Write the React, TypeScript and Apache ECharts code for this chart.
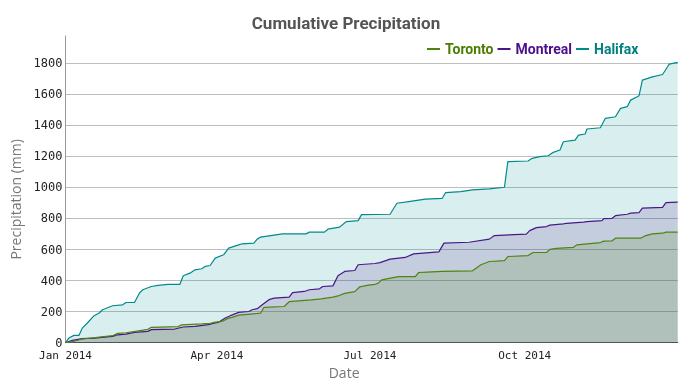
import React, { useEffect, useRef } from "react";
import * as echarts from "echarts";

const MONTHS = ["Jan", "Feb", "Mar", "Apr", "May", "Jun", "Jul", "Aug", "Sep", "Oct", "Nov", "Dec"];
const Y_TICKS = [0, 200, 400, 600, 800, 1000, 1200, 1400, 1600, 1800];

const torontoData: [string, number][] = [
  ["2014-01-01", 0], ["2014-01-05", 6], ["2014-01-11", 24], ["2014-01-29", 45], ["2014-02-01", 60],
  ["2014-02-06", 64], ["2014-02-19", 86], ["2014-02-21", 99], ["2014-03-09", 104], ["2014-03-11", 115],
  ["2014-03-23", 121], ["2014-03-28", 125], ["2014-03-31", 132], ["2014-04-04", 137], ["2014-04-08", 158],
  ["2014-04-10", 163], ["2014-04-14", 178], ["2014-04-27", 190], ["2014-04-29", 228], ["2014-05-11", 233],
  ["2014-05-14", 264], ["2014-05-27", 276], ["2014-06-02", 282], ["2014-06-09", 293], ["2014-06-12", 301],
  ["2014-06-16", 318], ["2014-06-22", 329], ["2014-06-25", 360], ["2014-06-30", 371], ["2014-07-04", 376],
  ["2014-07-06", 384], ["2014-07-08", 405], ["2014-07-18", 426], ["2014-07-28", 426], ["2014-07-30", 452],
  ["2014-08-04", 455], ["2014-08-13", 459], ["2014-08-31", 463], ["2014-09-05", 502], ["2014-09-10", 523],
  ["2014-09-19", 529], ["2014-09-21", 555], ["2014-10-03", 561], ["2014-10-06", 581], ["2014-10-14", 581],
  ["2014-10-16", 601], ["2014-10-20", 608], ["2014-10-30", 614], ["2014-11-01", 630], ["2014-11-15", 645],
  ["2014-11-17", 654], ["2014-11-22", 656], ["2014-11-24", 673], ["2014-12-09", 673], ["2014-12-12", 690],
  ["2014-12-16", 701], ["2014-12-22", 705], ["2014-12-24", 712], ["2014-12-31", 712],
];

const montrealData: [string, number][] = [
  ["2014-01-01", 0], ["2014-01-05", 15], ["2014-01-11", 26], ["2014-01-18", 30], ["2014-01-29", 41],
  ["2014-02-01", 51], ["2014-02-06", 55], ["2014-02-11", 66], ["2014-02-19", 73], ["2014-02-21", 84],
  ["2014-03-07", 88], ["2014-03-12", 101], ["2014-03-19", 105], ["2014-03-27", 116], ["2014-03-31", 127],
  ["2014-04-02", 131], ["2014-04-06", 159], ["2014-04-09", 174], ["2014-04-14", 195], ["2014-04-20", 201],
  ["2014-04-22", 212], ["2014-04-25", 219], ["2014-04-28", 244], ["2014-05-02", 277], ["2014-05-05", 287],
  ["2014-05-14", 294], ["2014-05-16", 323], ["2014-05-23", 330], ["2014-05-26", 341], ["2014-06-01", 347],
  ["2014-06-03", 362], ["2014-06-09", 366], ["2014-06-12", 431], ["2014-06-16", 459], ["2014-06-22", 465],
  ["2014-06-24", 502], ["2014-07-04", 510], ["2014-07-07", 516], ["2014-07-13", 538], ["2014-07-22", 549],
  ["2014-07-27", 572], ["2014-08-11", 585], ["2014-08-14", 641], ["2014-08-29", 647], ["2014-09-10", 667],
  ["2014-09-13", 690], ["2014-10-02", 699], ["2014-10-04", 722], ["2014-10-08", 741], ["2014-10-14", 748],
  ["2014-10-16", 757], ["2014-10-24", 765], ["2014-10-26", 769], ["2014-11-05", 776], ["2014-11-07", 780],
  ["2014-11-16", 786], ["2014-11-17", 799], ["2014-11-22", 801], ["2014-11-24", 818], ["2014-12-01", 827],
  ["2014-12-03", 834], ["2014-12-08", 838], ["2014-12-10", 866], ["2014-12-22", 872], ["2014-12-24", 902],
  ["2014-12-31", 905],
];

const halifaxData: [string, number][] = [
  ["2014-01-01", 0], ["2014-01-03", 30], ["2014-01-06", 47], ["2014-01-09", 47], ["2014-01-11", 94],
  ["2014-01-14", 127], ["2014-01-18", 174], ["2014-01-21", 191], ["2014-01-23", 212], ["2014-01-29", 238],
  ["2014-02-04", 244], ["2014-02-06", 259], ["2014-02-11", 259], ["2014-02-14", 320], ["2014-02-16", 341],
  ["2014-02-21", 362], ["2014-02-25", 369], ["2014-03-03", 375], ["2014-03-10", 375], ["2014-03-12", 431],
  ["2014-03-16", 448], ["2014-03-19", 469], ["2014-03-23", 476], ["2014-03-25", 491], ["2014-03-28", 497],
  ["2014-03-31", 545], ["2014-04-05", 566], ["2014-04-08", 609], ["2014-04-14", 630], ["2014-04-16", 637],
  ["2014-04-23", 641], ["2014-04-25", 667], ["2014-04-27", 680], ["2014-05-10", 701], ["2014-05-24", 701],
  ["2014-05-26", 712], ["2014-06-04", 712], ["2014-06-06", 731], ["2014-06-13", 744], ["2014-06-17", 780],
  ["2014-06-24", 786], ["2014-06-26", 825], ["2014-07-13", 827], ["2014-07-17", 898], ["2014-07-23", 907],
  ["2014-08-03", 924], ["2014-08-13", 930], ["2014-08-15", 967], ["2014-08-24", 973], ["2014-08-31", 984],
  ["2014-09-10", 990], ["2014-09-19", 1001], ["2014-09-21", 1166], ["2014-10-03", 1170], ["2014-10-05", 1185],
  ["2014-10-10", 1198], ["2014-10-15", 1204], ["2014-10-18", 1226], ["2014-10-22", 1241], ["2014-10-24", 1294],
  ["2014-10-31", 1305], ["2014-11-02", 1337], ["2014-11-06", 1344], ["2014-11-07", 1376], ["2014-11-15", 1384],
  ["2014-11-18", 1445], ["2014-11-24", 1455], ["2014-11-27", 1509], ["2014-12-01", 1520], ["2014-12-03", 1562],
  ["2014-12-07", 1584], ["2014-12-08", 1590], ["2014-12-10", 1691], ["2014-12-16", 1712], ["2014-12-22", 1727],
  ["2014-12-25", 1777], ["2014-12-26", 1794], ["2014-12-31", 1805],
];

const COLORS = { Toronto: "#4f8410", Montreal: "#4b1689", Halifax: "#008b8b" };
const DAY = 24 * 3600 * 1000;

export default function App() {
  const ref = useRef<HTMLDivElement>(null);
  useEffect(() => {
    if (!ref.current) return;
    const chart = echarts.init(ref.current, undefined, { renderer: "svg" });
    const mkSeries = (name: keyof typeof COLORS, data: [string, number][], alpha: number) => ({
      name,
      type: "line",
      data,
      showSymbol: false,
      symbol: "none",
      lineStyle: { color: COLORS[name], width: 1.2 },
      itemStyle: { color: COLORS[name] },
      areaStyle: { color: COLORS[name], opacity: alpha },
    });
    chart.setOption({
      animation: false,
      title: {
        text: "Cumulative Precipitation",
        left: "center",
        top: 9,
        textStyle: { fontFamily: "Roboto", fontSize: 17, fontWeight: "bold", color: "#555555" },
      },
      legend: {
        left: 422,
        top: 37,
        icon: "rect",
        itemWidth: 13,
        itemHeight: 2,
        itemGap: 4,
        textStyle: { fontFamily: "Roboto", fontSize: 14, fontWeight: "bold" },
        data: [
          { name: "Toronto", textStyle: { color: "#4c7d00" } },
          { name: "Montreal", textStyle: { color: "#4b0f8c" } },
          { name: "Halifax", textStyle: { color: "#008080" } },
        ],
      },
      grid: { left: 65.5, right: 14.3, top: 36, bottom: 48.3, containLabel: false },
      xAxis: {
        type: "time",
        min: "2014-01-01",
        max: "2014-12-31",
        splitNumber: 4,
        minInterval: 85 * DAY,
        maxInterval: 95 * DAY,
        name: "Date",
        nameLocation: "middle",
        nameGap: 22,
        nameTextStyle: { fontFamily: "Open Sans", fontSize: 14, color: "#777777", padding: [0, 55, 0, 0] },
        axisLine: { show: true, lineStyle: { color: "#555555", width: 1 } },
        axisTick: { show: false },
        splitLine: { show: false },
        minorTick: { show: false },
        axisLabel: {
          showMinLabel: true,
          fontFamily: "DejaVu Sans Mono",
          fontSize: 11,
          color: "#222222",
          margin: 7,
          formatter: (val: number) => {
            const d = new Date(val);
            if (d.getDate() === 1 && d.getMonth() % 3 === 0) return `${MONTHS[d.getMonth()]} ${d.getFullYear()}`;
            return "";
          },
        },
      },
      yAxis: {
        type: "value",
        min: Y_TICKS[0],
        max: 1975,
        interval: 200,
        name: "Precipitation (mm)",
        nameLocation: "middle",
        nameGap: 40,
        nameTextStyle: { fontFamily: "Open Sans", fontSize: 14, color: "#777777", padding: [0, 20, 0, 0] },
        axisLine: { show: true, lineStyle: { color: "#999999", width: 1 } },
        axisTick: { show: false },
        splitLine: { show: true, showMaxLine: false, lineStyle: { color: "#bdbdbd", width: 1 } },
        axisLabel: {
          showMaxLabel: false,
          fontFamily: "DejaVu Sans Mono",
          fontSize: 12,
          color: "#222222",
          margin: 3,
          formatter: (v: number) => (Y_TICKS.includes(v) ? String(v) : ""),
        },
      },
      series: [
        mkSeries("Halifax", halifaxData, 0.15),
        mkSeries("Montreal", montrealData, 0.15),
        mkSeries("Toronto", torontoData, 0.17),
      ],
    });
    return () => chart.dispose();
  }, []);
  return <div ref={ref} style={{ position: "fixed", left: 0, top: 0, width: 692, height: 391 }} />;
}
